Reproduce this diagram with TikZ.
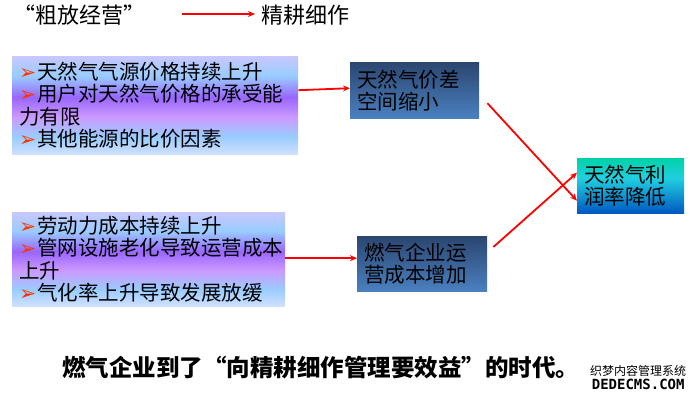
\documentclass[tikz,border=0pt]{standalone}
\usepackage{fontspec}
\setmainfont{Noto Sans CJK SC}
\newfontfamily\symfont{DejaVu Sans}
\newfontfamily\markfont{DejaVu Sans Mono}
\usetikzlibrary{arrows.meta}
\definecolor{deeptop}{HTML}{2B4670}
\definecolor{deepbot}{HTML}{4A80C0}
\definecolor{bulletred}{HTML}{FF3300}
\definecolor{lavtop}{HTML}{C8C8FF}
\definecolor{skyband}{HTML}{99CCFF}
\definecolor{violetband}{HTML}{9966FF}
\definecolor{lilacband}{HTML}{CC99FF}
\definecolor{palebot}{HTML}{D0E0FF}
\definecolor{tealtop}{HTML}{00D2A8}
\definecolor{cyanmid}{HTML}{20D0E0}
\definecolor{bluebot}{HTML}{0058C0}
\pgfdeclareverticalshading{causeshade}{100bp}{color(0bp)=(palebot); color(25bp)=(palebot); color(34bp)=(skyband); color(44bp)=(lilacband); color(54bp)=(violetband); color(65bp)=(skyband); color(75bp)=(lavtop); color(100bp)=(lavtop)}
\pgfdeclareverticalshading{resultshade}{100bp}{color(0bp)=(bluebot); color(25bp)=(bluebot); color(57bp)=(cyanmid); color(75bp)=(tealtop); color(100bp)=(tealtop)}
\newcommand{\bul}{\makebox[18pt][l]{\symfont\color{bulletred}➢}}
\newcommand{\openq}{\makebox[1em][r]{“}}
\newcommand{\closeq}{\makebox[1em][l]{”}}
\begin{document}
\begin{tikzpicture}[x=1pt,y=-1pt,
 cause/.style={anchor=north west,shading=causeshade,align=left,inner xsep=7pt,inner ysep=0pt,font=\fontsize{20.5}{22.5}\selectfont},
 mid/.style={anchor=north west,top color=deeptop,bottom color=deepbot,align=left,inner xsep=7pt,inner ysep=0pt,font=\fontsize{20.5}{22}\selectfont},
 arr/.style={-{Stealth[length=7pt,width=6pt]},draw=red,line width=1.8pt}]
 \useasboundingbox (0,0) rectangle (699,402);
 \node[anchor=west,font=\fontsize{22}{24}\selectfont](old) at (10,15){“粗放经营”};
 \node[anchor=west,font=\fontsize{22}{24}\selectfont](new) at (258,15){精耕细作};
 \coordinate(s) at (182,14);
 \path (s) edge[arr] ([xshift=-3pt]new.west|-s);
 \node[cause,minimum width=286pt,minimum height=98pt,text width=272pt](c1) at (12,56){\bul 天然气气源价格持续上升\\\bul 用户对天然气价格的承受能\\力有限\\\bul 其他能源的比价因素};
 \node[cause,minimum width=273pt,minimum height=94pt,text width=259pt](c2) at (12,212){\bul 劳动力成本持续上升\\\bul 管网设施老化导致运营成本\\上升\\\bul 气化率上升导致发展放缓};
 \node[mid,minimum width=129pt,minimum height=56pt,text width=115pt](m1) at (350,62){天然气价差\\空间缩小};
 \node[mid,minimum width=130pt,minimum height=55pt,text width=116pt](m2) at (357,236){燃气企业运\\营成本增加};
 \node[mid,shading=resultshade,minimum width=107pt,minimum height=55pt,text width=93pt](r) at (577,158){天然气利\\润率降低};
 \path (c1.east|-m1.west) edge[arr] ([yshift=2pt]m1.west);
 \path ([yshift=1pt]c2.east) edge[arr] ([yshift=1pt]c2.east-|m2.west);
 \path ([shift={(8,13)}]m1.east) edge[arr] ([yshift=-15pt]r.west);
 \path ([shift={(6,11)}]m2.north east) edge[arr] ([yshift=13pt]r.west);
 \node[anchor=west,inner xsep=0pt,font=\fontsize{23.5}{25}\bfseries](end) at (62,368){燃气企业到了\openq 向精耕细作管理要效益\closeq 的时代。};
 \node[anchor=north west,align=center,inner sep=0pt,font=\fontsize{12}{14}\selectfont](mark) at (590,365){织梦内容管理系统\\{\markfont\bfseries\fontsize{14}{14}\selectfont DEDECMS.COM}};
\end{tikzpicture}
\end{document}
